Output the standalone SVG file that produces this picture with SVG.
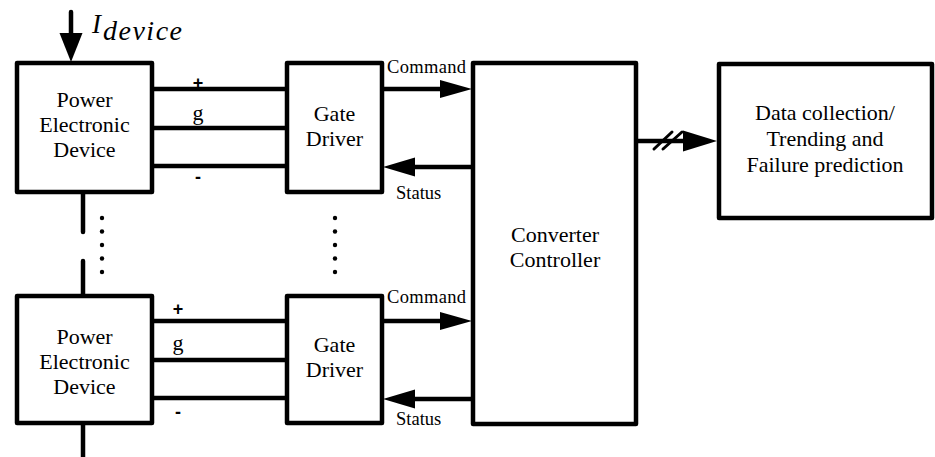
<svg xmlns="http://www.w3.org/2000/svg" width="935" height="457" viewBox="0 0 935 457">
<style>
.box{fill:#fff;stroke:#000;stroke-width:4.5;stroke-linejoin:round}
.ln{stroke:#000;stroke-width:4.5;fill:none;stroke-linecap:round}
.sl{stroke:#000;stroke-width:3;fill:none;stroke-linecap:round}
.head{fill:#000;stroke:none}
.dot{fill:#000}
.t{font-family:"Liberation Serif","Times New Roman",serif;font-size:22px;fill:#000;text-anchor:middle}
.s{font-family:"Liberation Serif","Times New Roman",serif;font-size:18.5px;fill:#000}
.p{font-family:"Liberation Sans",Arial,sans-serif;font-weight:bold;font-size:18px;fill:#000;text-anchor:middle}
.i{font-family:"Liberation Serif","Times New Roman",serif;font-style:italic;fill:#000}
</style>
<rect width="935" height="457" fill="#fff"/>
<g id="connectors">
  <line class="ln" x1="71" y1="12" x2="71" y2="36"/>
  <polygon class="head" points="59.5,33 82.5,33 71,62"/>
  <line class="ln" x1="83" y1="192" x2="83" y2="232"/>
  <line class="ln" x1="83" y1="261" x2="83" y2="296"/>
  <line class="ln" x1="83" y1="423" x2="83" y2="459"/>
  <line class="ln" x1="152" y1="89" x2="287" y2="89"/>
  <line class="ln" x1="152" y1="128" x2="287" y2="128"/>
  <line class="ln" x1="152" y1="166" x2="287" y2="166"/>
  <line class="ln" x1="152" y1="321" x2="287" y2="321"/>
  <line class="ln" x1="152" y1="360" x2="287" y2="360"/>
  <line class="ln" x1="152" y1="398" x2="287" y2="398"/>
  <line class="ln" x1="382" y1="89" x2="442" y2="89"/>
  <polygon class="head" points="440,80 472,89 440,98"/>
  <line class="ln" x1="473" y1="167" x2="413" y2="167"/>
  <polygon class="head" points="415,157.5 383,167 415,176.5"/>
  <line class="ln" x1="382" y1="321" x2="442" y2="321"/>
  <polygon class="head" points="440,312 472,321 440,330"/>
  <line class="ln" x1="473" y1="399" x2="413" y2="399"/>
  <polygon class="head" points="415,389.5 383,399 415,408.5"/>
  <line class="ln" x1="636" y1="141" x2="686" y2="141"/>
  <polygon class="head" points="683,130.5 717,141 683,151.5"/>
  <line class="sl" x1="654" y1="149" x2="672" y2="132"/>
  <line class="sl" x1="663" y1="149" x2="682" y2="132"/>
  <circle class="dot" cx="102" cy="218" r="2.2"/>
  <circle class="dot" cx="102" cy="231.5" r="2.2"/>
  <circle class="dot" cx="102" cy="245" r="2.2"/>
  <circle class="dot" cx="102" cy="258.5" r="2.2"/>
  <circle class="dot" cx="102" cy="272" r="2.2"/>
  <circle class="dot" cx="335" cy="218" r="2.2"/>
  <circle class="dot" cx="335" cy="231.5" r="2.2"/>
  <circle class="dot" cx="335" cy="245" r="2.2"/>
  <circle class="dot" cx="335" cy="258.5" r="2.2"/>
  <circle class="dot" cx="335" cy="272" r="2.2"/>
  <text class="p" x="198" y="89">+</text>
  <text class="t" x="198" y="120">g</text>
  <text class="p" x="198" y="183">-</text>
  <text class="p" x="178" y="315">+</text>
  <text class="t" x="178" y="350">g</text>
  <text class="p" x="178" y="418">-</text>
  <text class="s" x="387" y="73" textLength="79">Command</text>
  <text class="s" x="396" y="199">Status</text>
  <text class="s" x="387" y="303" textLength="79">Command</text>
  <text class="s" x="396" y="425">Status</text>
  <text class="i" x="92" y="33" font-size="27">I</text>
  <text class="i" x="103" y="40" font-size="28" textLength="79">device</text>
</g>
<g id="ped1">
  <rect class="box" x="17" y="63" width="135" height="129"/>
  <text class="t" x="84.5" y="107">Power</text>
  <text class="t" x="84.5" y="132">Electronic</text>
  <text class="t" x="84.5" y="157">Device</text>
</g>
<g id="gd1">
  <rect class="box" x="287" y="63" width="95" height="129"/>
  <text class="t" x="334.5" y="121">Gate</text>
  <text class="t" x="334.5" y="146">Driver</text>
</g>
<g id="ped2">
  <rect class="box" x="17" y="296" width="135" height="127"/>
  <text class="t" x="84.5" y="344">Power</text>
  <text class="t" x="84.5" y="369">Electronic</text>
  <text class="t" x="84.5" y="394">Device</text>
</g>
<g id="gd2">
  <rect class="box" x="287" y="296" width="95" height="127"/>
  <text class="t" x="334.5" y="352">Gate</text>
  <text class="t" x="334.5" y="377">Driver</text>
</g>
<g id="controller">
  <rect class="box" x="473" y="63" width="163" height="361"/>
  <text class="t" x="555" y="242">Converter</text>
  <text class="t" x="555" y="267">Controller</text>
</g>
<g id="data">
  <rect class="box" x="719" y="64" width="213" height="154"/>
  <text class="t" x="825" y="120">Data collection/</text>
  <text class="t" x="825" y="146">Trending and</text>
  <text class="t" x="825" y="172">Failure prediction</text>
</g>
</svg>
